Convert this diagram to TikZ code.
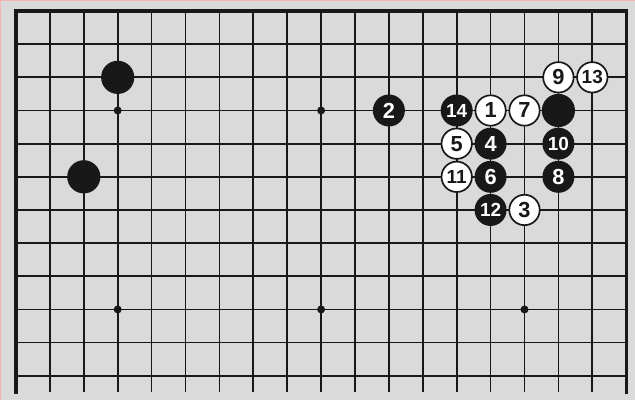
\documentclass[tikz,border=0pt]{standalone}
\usepackage{fontspec}
\setsansfont{Liberation Sans}
\usetikzlibrary{positioning}
\definecolor{boardgray}{HTML}{DADADA}
\definecolor{inkblack}{HTML}{181818}
\definecolor{framepink}{HTML}{F2B5B5}

\begin{document}
\begin{tikzpicture}[
x=0.8475cm, y=-0.829cm,
    blackstone/.style={circle, fill=inkblack, minimum size=0.8cm, inner sep=0pt, text=white, font=\sffamily\bfseries\fontsize{15.5}{15.5}\selectfont},
    whitestone/.style={circle, draw=inkblack, fill=white, line width=1.2pt, minimum size=0.76cm, inner sep=0pt, text=inkblack, font=\sffamily\bfseries\fontsize{15.5}{15.5}\selectfont},
    twodigit/.style={font=\sffamily\bfseries\fontsize{13.5}{13.5}\selectfont},
    hoshi/.style={circle, fill=inkblack, minimum size=0.2cm, inner sep=0pt},
    gridline/.style={draw=inkblack, line width=1.25pt},
    edgeline/.style={draw=inkblack, line width=2.2pt, line cap=rect}
]

    % ================= BOARD =================
    \fill[boardgray] (-0.472,-0.332) rectangle (18.26,11.73);
    \useasboundingbox (-0.472,-0.332) rectangle (18.26,11.73);
    \draw[framepink, line width=1.2pt] (-0.462,11.73) -- (-0.462,-0.322) -- (18.26,-0.322);

    \foreach \i in {1,...,17}
        \draw[gridline] (\i,0) -- (\i,11.49);
    \foreach \j in {1,...,11}
        \draw[gridline] (0,\j) -- (18,\j);
    \draw[edgeline] (0,11.49) -- (0,0) -- (18,0) -- (18,11.49);

    % star points
    \node[hoshi] (h33) at (3,3) {};
    \node[hoshi] (h93) at (9,3) {};
    \node[hoshi] (h39) at (3,9) {};
    \node[hoshi] (h99) at (9,9) {};
    \node[hoshi] (h159) at (15,9) {};

    % ================= STONES =================
    \node[blackstone, minimum size=0.83cm] (b_a) at (3,2) {};
    \node[blackstone, minimum size=0.83cm] (b_b) at (2,5) {};
    \node[blackstone, minimum size=0.83cm] (b_c) at (16,3) {};

    \node[whitestone] (m1) at (14,3) {1};
    \node[blackstone] (m2) at (11,3) {2};
    \node[whitestone] (m3) at (15,6) {3};
    \node[blackstone] (m4) at (14,4) {4};
    \node[whitestone] (m5) at (13,4) {5};
    \node[blackstone] (m6) at (14,5) {6};
    \node[whitestone] (m7) at (15,3) {7};
    \node[blackstone] (m8) at (16,5) {8};
    \node[whitestone] (m9) at (16,2) {9};
    \node[blackstone, twodigit] (m10) at (16,4) {10};
    \node[whitestone, twodigit] (m11) at (13,5) {11};
    \node[blackstone, twodigit] (m12) at (14,6) {12};
    \node[whitestone, twodigit] (m13) at (17,2) {13};
    \node[blackstone, twodigit] (m14) at (13,3) {14};

\end{tikzpicture}
\end{document}
